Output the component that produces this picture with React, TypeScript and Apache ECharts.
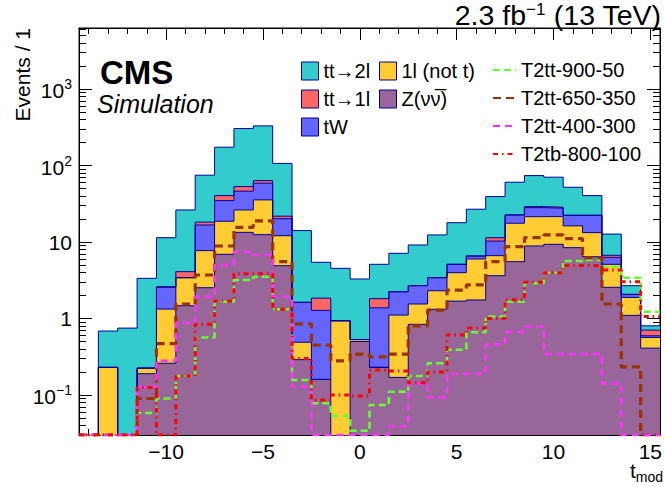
import React, { useEffect, useRef } from "react";
import * as echarts from "echarts";

// Bin centres of t_mod (bin width 1)
const binCenters = [-14, -13, -12, -11, -10, -9, -8, -7, -6, -5, -4, -3, -2, -1, 0, 1, 2, 3, 4, 5, 6, 7, 8, 9, 10, 11, 12, 13, 14, 15];

// Stacked backgrounds (bottom to top)
const zNuNu = [0, 0, 0, 0.19, 0.26, 1.47, 2.53, 6.92, 13.4, 12.5, 4.91, 0.29, 0.16, 0, 0.5, 0.23, 0.17, 0.84, 1.32, 1.69, 1.75, 3.63, 5.54, 8.89, 9.35, 8.45, 6.44, 2.56, 1.1, 0.41];
const oneLepNotTop = [0, 0.23, 0, 0.035, 1.07, 1.95, 5.2, 11.8, 12.9, 23.1, 7.2, 0.2, 0, 0.935, 0.031, 0, 0.94, 0.71, 0.99, 2.29, 4.26, 3.01, 12.1, 12.6, 12.2, 7.85, 6.86, 2.56, 0.79, 0.156];
const tW = [0, 0, 0, 0, 1.23, 0, 9.0, 16.1, 20.0, 23.3, 8.1, 1.14, 1.12, 0, 0, 1.15, 1.13, 1.14, 1.11, 1.14, 0.57, 3.66, 5.0, 6.7, 6.2, 6.1, 9.1, 1.2, 0.18, 0.029];
const ttTo1l = [0, 0, 0, 0, 0.05, 0.68, 1.5, 5.7, 6.8, 4.7, 1.6, 0, 0.57, 0, 0, 0.44, 0, 0, 0, 0, 0, 1.1, 0, 0.9, 0.8, 0, 0, 0.4, 0, 0.111];
const ttTo2l = [0, 0.456, 0.75, 3.13, 8.8, 22.2, 56.7, 133.5, 252, 267, 85, 12.5, 3.59, 3.6, 2.76, 3.3, 4.89, 6.47, 8.98, 12.8, 20.3, 27.9, 38, 44.9, 42, 29.7, 18.1, 6.0, 0.62, 0.098];

// Signals (not stacked)
const t2tt900_50 = [0, 0, 0, 0.058, 0.09, 0.177, 0.567, 1.66, 3.19, 3.52, 1.32, 0.157, 0.078, 0.053, 0.034, 0.074, 0.11, 0.177, 0.26, 0.39, 0.66, 1.06, 1.66, 2.89, 3.98, 5.66, 5.83, 4.77, 3.42, 1.23];
const t2tt650_350 = [0, 0, 0, 0.09, 0.47, 1.55, 3.71, 8.89, 15.6, 18.9, 5.54, 0.85, 0.45, 0.28, 0.343, 0.316, 0.343, 0.8, 1.29, 2.36, 2.75, 5.54, 8.74, 11.4, 12.4, 11.1, 6.2, 1.55, 0.234, 0];
const t2tt400_300 = [0, 0, 0, 0.128, 0.28, 0.88, 1.93, 5.0, 7.48, 6.78, 1.93, 0.128, 0, 0, 0, 0, 0.039, 0.142, 0.093, 0.19, 0.19, 0.46, 0.67, 0.78, 0.343, 0.343, 0.343, 0.142, 0, 0];
const t2tb800_100 = [0, 0, 0, 0.125, 0, 0.177, 0.84, 1.7, 3.85, 3.85, 1.32, 0.3, 0.086, 0.1, 0.097, 0.212, 0.206, 0.145, 0.2, 0.61, 0.75, 1.0, 1.76, 2.98, 3.98, 4.95, 4.95, 4.3, 3.03, 1.06];

const Y_MIN = 0.03;
const Y_MAX = 6300;
const X_MIN = -14.5;
const X_MAX = 15.5;

const FONT = "'Liberation Sans', Arial, Helvetica, sans-serif";
const OUTLINE = "#000099";
const TINY = 1e-4;
const Z_NAME = "Z(\u03bd\u03bd\u0305)";

function stepData(values: number[], floor: number) {
  const pts: number[][] = values.map((v, i) => [binCenters[i] - 0.5, Math.max(v, floor)]);
  const last = values.length - 1;
  pts.push([binCenters[last] + 0.5, Math.max(values[last], floor)]);
  return pts;
}

function fmtX(v: number) {
  if (Math.abs(v - Math.round(v)) > 1e-9) return "";
  return v < 0 ? "\u2212" + Math.abs(v) : String(v);
}

function fmtY(v: number) {
  const e = Math.round(Math.log10(v));
  const p = Math.pow(10, e);
  if (Math.abs(v - p) / p > 1e-6) return "";
  if (e === 0) return "{b|1}";
  if (e === 1) return "{b|10}";
  const exp = e < 0 ? "\u2212" + Math.abs(e) : String(e);
  return "{b|10}{sup|" + exp + "}";
}

export default function App() {
  const ref = useRef<HTMLDivElement>(null);
  useEffect(() => {
    if (!ref.current) return;
    const chart = echarts.init(ref.current, null, { renderer: "svg" });

    // bottom -> top
    const bgs = [
      { name: Z_NAME, data: zNuNu, color: "#996699" },
      { name: "1l (not t)", data: oneLepNotTop, color: "#FFCC33" },
      { name: "tW", data: tW, color: "#6666FF" },
      { name: "tt\u21921l", data: ttTo1l, color: "#FF6666" },
      { name: "tt\u21922l", data: ttTo2l, color: "#33CCCC" },
    ];
    // cumulative sums (stack built by hand; log axes do not stack)
    const cum: number[][] = [];
    bgs.forEach((b, k) => {
      cum.push(b.data.map((v, i) => v + (k > 0 ? cum[k - 1][i] : 0)));
    });

    const sigs = [
      { name: "T2tt-900-50", data: t2tt900_50, color: "#66FF33", width: 2.5, type: [7, 4] },
      { name: "T2tt-650-350", data: t2tt650_350, color: "#993300", width: 3.2, type: [8, 5] },
      { name: "T2tt-400-300", data: t2tt400_300, color: "#FF33FF", width: 2.6, type: [7, 5] },
      { name: "T2tb-800-100", data: t2tb800_100, color: "#FF0000", width: 3, type: [5, 4, 1.5, 4] },
    ];

    const series: any[] = [];
    // draw top-most cumulative first so lower layers paint over it
    for (let k = bgs.length - 1; k >= 0; k--) {
      const b = bgs[k];
      series.push({
        type: "line",
        name: b.name,
        step: "end",
        symbol: "none",
        data: stepData(cum[k], TINY),
        itemStyle: { color: b.color },
        lineStyle: { color: OUTLINE, width: 1 },
        areaStyle: { color: b.color, opacity: 1, origin: "start" },
        clip: true,
        silent: true,
        z: 2,
      });
    }
    sigs.forEach((s) => {
      series.push({
        type: "line",
        name: s.name,
        step: "end",
        symbol: "none",
        data: stepData(s.data, Y_MIN),
        itemStyle: { color: s.color },
        lineStyle: { color: s.color, width: s.width, type: s.type },
        clip: true,
        silent: true,
        z: 5,
      });
    });

    const textStyle = { color: "#000", fontSize: 20, fontFamily: FONT };
    const legendBg = (names: string[]) =>
      names.map((n) => {
        const b = bgs.find((x) => x.name === n)!;
        return { name: n, icon: "rect", itemStyle: { color: b.color, borderColor: OUTLINE, borderWidth: 1 } };
      });

    const xCommon = {
      type: "value",
      min: X_MIN,
      max: X_MAX,
      splitNumber: 6,
      splitLine: { show: false },
      axisLine: { show: true, onZero: false, lineStyle: { color: "#000", width: 1 } },
      axisTick: { show: true, inside: true, length: 12, lineStyle: { color: "#000" } },
      minorTick: { show: true, splitNumber: 5, length: 6, lineStyle: { color: "#000" } },
    };
    const yCommon = {
      type: "log",
      logBase: 10,
      min: Y_MIN,
      max: Y_MAX,
      splitLine: { show: false },
      axisLine: { show: true, onZero: false, lineStyle: { color: "#000", width: 1 } },
      axisTick: { show: true, inside: true, length: 13, lineStyle: { color: "#000" } },
      minorTick: { show: true, splitNumber: 9, length: 7, lineStyle: { color: "#000" } },
    };

    chart.setOption({
      animation: false,
      backgroundColor: "#fff",
      grid: { left: 79, right: 4, top: 28, bottom: 52, show: true, borderColor: "#000", borderWidth: 1 },
      xAxis: [
        {
          ...xCommon,
          position: "bottom",
          axisLabel: {
            show: true,
            formatter: fmtX,
            color: "#000",
            fontSize: 21,
            fontFamily: FONT,
            margin: 6,
            showMinLabel: false,
            showMaxLabel: false,
          },
        },
        { ...xCommon, position: "top", axisLabel: { show: false } },
      ],
      yAxis: [
        {
          ...yCommon,
          position: "left",
          axisLabel: {
            show: true,
            formatter: fmtY,
            color: "#000",
            fontFamily: FONT,
            margin: 7,
            showMinLabel: false,
            showMaxLabel: false,
            rich: {
              b: { fontSize: 21, fontFamily: FONT, color: "#000", verticalAlign: "bottom" },
              sup: { fontSize: 14, fontFamily: FONT, color: "#000", verticalAlign: "bottom", padding: [0, 0, 10, 0] },
            },
          },
        },
        { ...yCommon, position: "right", axisLabel: { show: false } },
      ],
      legend: [
        {
          orient: "vertical",
          left: 296,
          top: 56,
          itemWidth: 17,
          itemHeight: 18,
          itemGap: 8,
          selectedMode: false,
          textStyle,
          data: legendBg(["tt\u21922l", "tt\u21921l", "tW"]),
        },
        {
          orient: "vertical",
          left: 374,
          top: 56,
          itemWidth: 17,
          itemHeight: 18,
          itemGap: 8,
          selectedMode: false,
          textStyle,
          data: legendBg(["1l (not t)", Z_NAME]),
        },
        {
          orient: "vertical",
          left: 487,
          top: 55,
          itemWidth: 23,
          itemHeight: 18,
          itemGap: 8,
          selectedMode: false,
          textStyle,
          itemStyle: { opacity: 0 },
          data: sigs.map((s) => s.name),
        },
      ],
      graphic: [
        {
          type: "text",
          x: 100,
          y: 72,
          style: { text: "CMS", fill: "#000", font: "bold 33px " + FONT, textVerticalAlign: "middle" },
        },
        {
          type: "text",
          x: 97,
          y: 104,
          style: { text: "Simulation", fill: "#000", font: "italic 25px " + FONT, textVerticalAlign: "middle" },
        },
        {
          type: "text",
          x: 661,
          y: 15,
          style: {
            text: "{m|2.3 fb}{s|\u22121}{m| (13 TeV)}",
            textAlign: "right",
            textVerticalAlign: "middle",
            rich: {
              m: { fontSize: 28.5, fontFamily: FONT, fill: "#000", verticalAlign: "bottom" },
              s: { fontSize: 17, fontFamily: FONT, fill: "#000", verticalAlign: "bottom", padding: [0, 0, 12, 0] },
            },
          },
        },
        {
          type: "text",
          x: 22,
          y: 28,
          rotation: Math.PI / 2,
          style: {
            text: "Events / 1",
            fill: "#000",
            fontSize: 21,
            fontFamily: FONT,
            textAlign: "right",
            textVerticalAlign: "middle",
          },
        },
        {
          type: "text",
          x: 663,
          y: 472,
          style: {
            text: "{t|t}{s|mod}",
            textAlign: "right",
            textVerticalAlign: "middle",
            rich: {
              t: { fontSize: 21, fontFamily: FONT, fill: "#000", verticalAlign: "top" },
              s: { fontSize: 14, fontFamily: FONT, fill: "#000", verticalAlign: "top", padding: [10, 0, 0, 0] },
            },
          },
        },
      ],
      series,
    });

    return () => chart.dispose();
  }, []);

  return <div ref={ref} style={{ position: "fixed", left: 0, top: 0, width: 665, height: 487 }} />;
}
